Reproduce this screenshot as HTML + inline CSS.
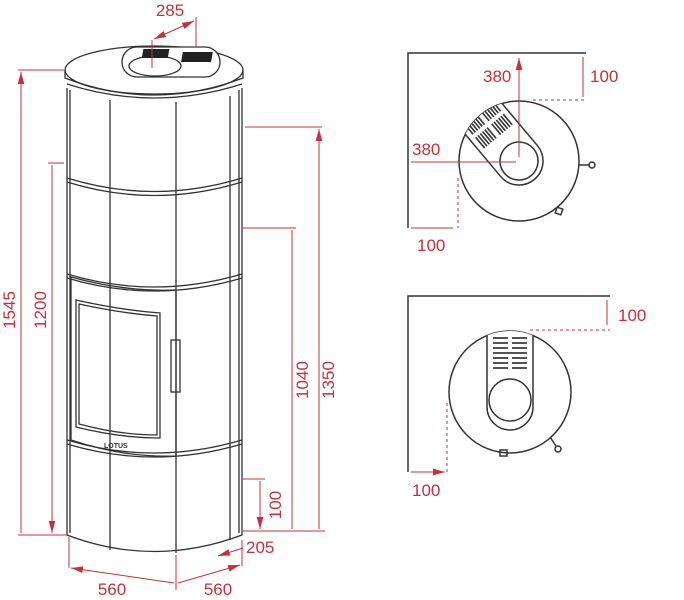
<!DOCTYPE html>
<html><head><meta charset="utf-8"><style>
html,body{margin:0;padding:0;background:#fff}
svg{display:block}
text{font-family:"Liberation Sans",sans-serif;fill:#c4313b;font-size:17px}
</style></head><body>
<svg width="684" height="600" viewBox="0 0 684 600" xmlns="http://www.w3.org/2000/svg">
<defs>
<marker id="a" viewBox="0 0 10 10" refX="10" refY="5" markerWidth="12" markerHeight="12" orient="auto-start-reverse" markerUnits="userSpaceOnUse"><path d="M0,2.2 L10,5 L0,7.8z" fill="#c4313b"/></marker>
<clipPath id="c1"><circle cx="519" cy="161" r="60"/></clipPath>
<clipPath id="c2"><circle cx="510" cy="392" r="61"/></clipPath>
</defs>
<g fill="none" stroke="#333" stroke-width="1.3">
<path d="M67,88 L67,535 Q154,568 242,535 L242,88"/>
<path d="M70,90 L70,533 M239,90 L239,533"/>
<path d="M110,100 L110,550 M176,102 L176,553 M230,96 L230,540"/>
<path d="M67,178 Q154,205 242,178 M67,182 Q154,209 242,182"/>
<path d="M67,274 Q154,300 242,274 M67,278 Q154,304 242,278"/>
<path d="M67,440 Q154,466 242,440 M67,444 Q154,470 242,444"/>
<ellipse cx="154" cy="70" rx="89" ry="24" fill="#fff"/>
<path d="M65,70 L65,78 Q154,112 243,78 L243,70"/>
<path d="M67,84 Q154,112 242,84"/>
<rect x="122" y="47" width="98" height="30" rx="15" fill="#fff"/>
<ellipse cx="155" cy="66" rx="26" ry="10"/>
<path d="M71,277 Q125,292 176,290 L176,456 Q125,458 71,440 Z"/>
<path d="M76,300 Q120,310 160,313 L160,438 Q120,438 76,427 Z"/>
<path d="M79,304 Q120,313 157,316 L157,435 Q120,435 79,424 Z"/>
<rect x="171" y="340" width="9" height="52"/>
</g>
<g fill="#222">
<rect x="152" y="49" width="26" height="9" transform="skewX(-10)"/><rect x="182" y="52" width="30" height="10" transform="skewX(-10) translate(10,0)"/>
</g>
<text x="104" y="448" style="font-size:7px;fill:#333;font-weight:bold">LOTUS</text>
<g stroke="#c4313b" stroke-width="1" fill="none">
<path d="M18,70 H64 M18,535 H67 M48,163 H64"/>
<path d="M21,72 V533 M52,165 V533" marker-start="url(#a)" marker-end="url(#a)"/>
<path d="M245,127 H322 M243,228 H296 M243,531 H325 M243,479 H265"/>
<path d="M319,129 V529 M292,230 V529 M260,481 V529" marker-start="url(#a)" marker-end="url(#a)"/>
<path d="M69,537 V568 M176,555 V590 M242,540 V566"/>
<path d="M71,568 L174,583 M178,583 L240,565" marker-start="url(#a)" marker-end="url(#a)"/>
<path d="M218,556 L243,548" marker-start="url(#a)"/>
<path d="M152,68 V40 M196,47 V17"/>
<path d="M154,39 L194,21" marker-start="url(#a)" marker-end="url(#a)"/>
</g>
<text transform="translate(15,310) rotate(-90)" text-anchor="middle">1545</text>
<text transform="translate(46,310) rotate(-90)" text-anchor="middle">1200</text>
<text transform="translate(308,380) rotate(-90)" text-anchor="middle">1040</text>
<text transform="translate(334,380) rotate(-90)" text-anchor="middle">1350</text>
<text transform="translate(281,505) rotate(-90)" text-anchor="middle">100</text>
<text x="246" y="553">205</text>
<text x="112" y="595" text-anchor="middle">560</text>
<text x="218" y="595" text-anchor="middle">560</text>
<text x="170" y="16" text-anchor="middle">285</text>
<g fill="none" stroke="#333" stroke-width="1.5">
<path d="M586,53 H408 V228"/>
<circle cx="519" cy="161" r="60"/>
<g clip-path="url(#c1)">
<g transform="translate(519,161) rotate(-40)">
<rect x="-24" y="-90" width="48" height="114" rx="24" fill="#fff"/>
<circle cx="0" cy="0" r="19"/>
<g stroke="#333" stroke-width="1.6">
<path d="M-18,-64 v14 M-15,-64 v14 M-12,-64 v14 M-9,-64 v14 M-6,-64 v14 M-3,-64 v14 M3,-64 v14 M6,-64 v14 M9,-64 v14 M12,-64 v14 M15,-64 v14 M18,-64 v14"/>
<path d="M-18,-46 v14 M-15,-46 v14 M-12,-46 v14 M-9,-46 v14 M-6,-46 v14 M-3,-46 v14 M3,-46 v14 M6,-46 v14 M9,-46 v14 M12,-46 v14 M15,-46 v14 M18,-46 v14"/>
</g>
</g>
</g>
<path d="M579,165 h10"/><circle cx="592" cy="165" r="3"/>
<rect x="556" y="208" width="6" height="6" transform="rotate(20 559 211)"/>
</g>
<g fill="none" stroke="#333" stroke-width="1.5">
<path d="M610,296 H408 V472"/>
<circle cx="510" cy="392" r="61"/>
<g clip-path="url(#c2)">
<rect x="487" y="300" width="46" height="130" rx="23" fill="#fff"/>
</g>
<circle cx="510" cy="400" r="21"/>
<g stroke="#555" stroke-width="2">
<path d="M493,338 h15 M512,338 h15 M493,343 h15 M512,343 h15 M493,348 h15 M512,348 h15 M493,353 h34 M493,358 h15 M512,358 h15 M493,363 h15 M512,363 h15 M493,368 h15 M512,368 h15"/>
</g>
<path d="M550,437 l6,9"/><circle cx="558" cy="449" r="3"/>
<rect x="500" y="450" width="7" height="6"/>
</g>
<g stroke="#c4313b" stroke-width="1" fill="none">
<path d="M519,58 V157 M411,162 H516 M583,57 V97 M411,228 H453 M607,300 V325 M411,472 H445" marker-start="url(#a)" marker-end="url(#a)"/>
<path d="M533,100 H586 M458,178 V228 M530,330 H610 M447,403 V472" stroke-dasharray="3,3"/>
</g>
<text x="483" y="82">380</text>
<text x="590" y="82">100</text>
<text x="412" y="155">380</text>
<text x="417" y="251">100</text>
<text x="618" y="321">100</text>
<text x="412" y="496">100</text>
</svg>
</body></html>
